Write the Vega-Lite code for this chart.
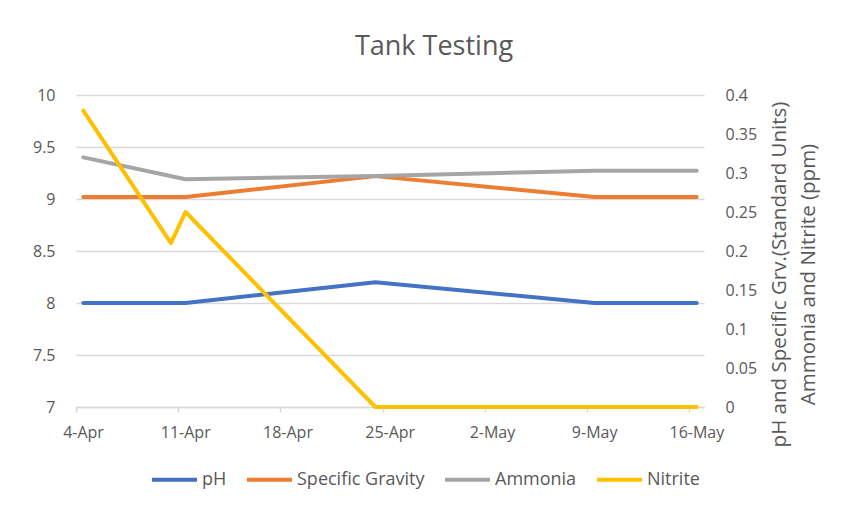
{
  "$schema": "https://vega.github.io/schema/vega-lite/v6.json",
  "width": 628,
  "height": 312,
  "autosize": "none",
  "padding": {"left": 76, "top": 95, "right": 140, "bottom": 105},
  "background": "white",
  "title": {"text": "Tank Testing", "fontSize": 27, "font": "Open Sans", "fontWeight": "normal", "color": "#595959", "anchor": "middle", "dx": 44, "offset": 26},
  "config": {"view": {"stroke": null}},
  "data": {"values": [
    {"date": "2019-04-04", "series": "pH", "value": 8},
    {"date": "2019-04-11", "series": "pH", "value": 8},
    {"date": "2019-04-24", "series": "pH", "value": 8.2},
    {"date": "2019-05-09", "series": "pH", "value": 8},
    {"date": "2019-05-16", "series": "pH", "value": 8},
    {"date": "2019-04-04", "series": "Specific Gravity", "value": 9.02},
    {"date": "2019-04-11", "series": "Specific Gravity", "value": 9.02},
    {"date": "2019-04-24", "series": "Specific Gravity", "value": 9.22},
    {"date": "2019-05-09", "series": "Specific Gravity", "value": 9.02},
    {"date": "2019-05-16", "series": "Specific Gravity", "value": 9.02},
    {"date": "2019-04-04", "series": "Ammonia", "value": 0.32},
    {"date": "2019-04-11", "series": "Ammonia", "value": 0.292},
    {"date": "2019-04-24", "series": "Ammonia", "value": 0.296},
    {"date": "2019-05-09", "series": "Ammonia", "value": 0.303},
    {"date": "2019-05-16", "series": "Ammonia", "value": 0.303},
    {"date": "2019-04-04", "series": "Nitrite", "value": 0.38},
    {"date": "2019-04-10", "series": "Nitrite", "value": 0.21},
    {"date": "2019-04-11", "series": "Nitrite", "value": 0.25},
    {"date": "2019-04-24", "series": "Nitrite", "value": 0},
    {"date": "2019-05-09", "series": "Nitrite", "value": 0},
    {"date": "2019-05-16", "series": "Nitrite", "value": 0}
  ]},
  "encoding": {
    "x": {
      "field": "date", "type": "temporal", "timeUnit": "utcyearmonthdate", "bandPosition": 0.5,
      "scale": {"type": "utc", "domain": [{"year": 2019, "month": 4, "date": 4, "utc": true}, {"year": 2019, "month": 5, "date": 17, "utc": true}]},
      "axis": {
        "title": null,
        "values": [
          {"year": 2019, "month": 4, "date": 4, "utc": true},
          {"year": 2019, "month": 4, "date": 11, "utc": true},
          {"year": 2019, "month": 4, "date": 18, "utc": true},
          {"year": 2019, "month": 4, "date": 25, "utc": true},
          {"year": 2019, "month": 5, "date": 2, "utc": true},
          {"year": 2019, "month": 5, "date": 9, "utc": true},
          {"year": 2019, "month": 5, "date": 16, "utc": true}
        ],
        "labelExpr": "utcFormat(datum.value, '%-d-%b')",
        "grid": false,
        "domainColor": "#D9D9D9", "domainWidth": 1.5,
        "tickColor": "#D9D9D9", "tickSize": 5, "tickWidth": 1.5,
        "labelFont": "Open Sans", "labelFontSize": 16, "labelColor": "#595959",
        "labelOffset": 7, "labelPadding": 12, "labelFlush": false, "labelOverlap": false
      }
    },
    "color": {
      "field": "series", "type": "nominal",
      "scale": {"domain": ["pH", "Specific Gravity", "Ammonia", "Nitrite"], "range": ["#4472C4", "#ED7D31", "#A5A5A5", "#FFC000"]},
      "legend": {
        "title": null, "orient": "none", "legendX": 74, "legendY": 360, "direction": "horizontal",
        "symbolType": "stroke", "symbolSize": 2025, "symbolStrokeWidth": 4,
        "labelFont": "Open Sans", "labelFontSize": 18, "labelColor": "#595959",
        "labelOffset": 3, "columnPadding": 12
      }
    }
  },
  "layer": [
    {
      "transform": [{"filter": "datum.series === 'pH' || datum.series === 'Specific Gravity'"}],
      "mark": {"type": "line", "strokeWidth": 4, "strokeJoin": "round", "strokeCap": "round"},
      "encoding": {
        "y": {
          "field": "value", "type": "quantitative",
          "scale": {"domain": [7, 10], "zero": false},
          "axis": {
            "title": null, "values": [7, 7.5, 8, 8.5, 9, 9.5, 10], "format": "~g",
            "grid": true, "gridColor": "#D9D9D9", "gridWidth": 1.5,
            "domain": false, "ticks": false, "tickSize": 0,
            "labelFont": "Open Sans", "labelFontSize": 16, "labelColor": "#595959", "labelPadding": 21
          }
        }
      }
    },
    {
      "transform": [{"filter": "datum.series === 'Ammonia' || datum.series === 'Nitrite'"}],
      "mark": {"type": "line", "strokeWidth": 4, "strokeJoin": "round", "strokeCap": "round"},
      "encoding": {
        "y": {
          "field": "value", "type": "quantitative",
          "scale": {"domain": [0, 0.4]},
          "axis": {
            "orient": "right",
            "values": [0, 0.05, 0.1, 0.15, 0.2, 0.25, 0.3, 0.35, 0.4], "format": "~g",
            "grid": false, "domain": false, "ticks": false, "tickSize": 0,
            "labelFont": "Open Sans", "labelFontSize": 16, "labelColor": "#595959", "labelPadding": 21,
            "title": ["pH and Specific Grv.(Standard Units)", "Ammonia and Nitrite (ppm)"],
            "titleFont": "Open Sans", "titleFontSize": 20.5, "titleFontWeight": "normal", "titleColor": "#595959",
            "titleAngle": 270, "titleAlign": "center", "titleBaseline": "top",
            "titleX": 65, "titleY": 179, "titleLineHeight": 29
          }
        }
      }
    }
  ],
  "resolve": {"scale": {"y": "independent"}}
}
